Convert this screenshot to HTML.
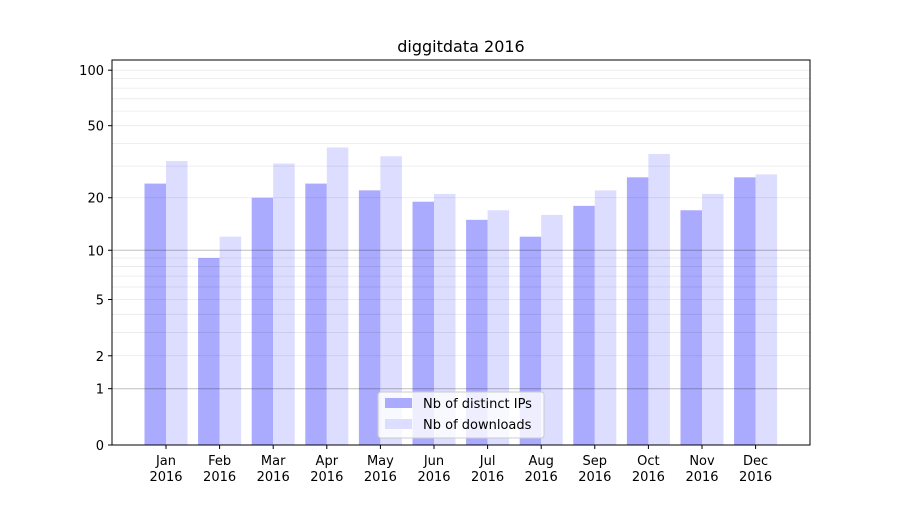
<!DOCTYPE html>
<html><head><meta charset="utf-8"><style>
body{margin:0;background:#fff;}
text{font-family:"DejaVu Sans","Liberation Sans",sans-serif;}
</style></head><body>
<svg id="chart" width="900" height="500" xmlns="http://www.w3.org/2000/svg">
<rect width="900" height="500" fill="#fff"/>
<text x="461" y="52" font-size="16" text-anchor="middle">diggitdata 2016</text>
<g id="bars"></g><g id="grid"></g><g id="axes"></g>
<g>
<rect x="378" y="392" width="166" height="46" fill="#fff" fill-opacity="0.8" stroke="#ccc" rx="3"/>
<rect x="385" y="398" width="27" height="10" fill="#aaaaff"/>
<text x="423" y="408" font-size="13">Nb of distinct IPs</text>
<rect x="385" y="419" width="27" height="10" fill="#ddddff"/>
<text x="423" y="429" font-size="13">Nb of downloads</text>
</g>
</svg>
<script>
const months=["Jan","Feb","Mar","Apr","May","Jun","Jul","Aug","Sep","Oct","Nov","Dec"];
const ips=[24,9,20,24,22,19,15,12,18,26,17,26];
const downloads=[32,12,31,38,34,21,17,16,22,35,21,27];
const yTicks=[0,1,2,5,10,20,50,100];
const NS="http://www.w3.org/2000/svg";
const L=112,R=810,T=60,B=445,K=187;
function y(v){return B-K*Math.log10(1+v);}
function xc(i){return 166+i*53.6;}
function mk(tag,attrs,parent){const e=document.createElementNS(NS,tag);for(const k in attrs)e.setAttribute(k,attrs[k]);document.getElementById(parent).appendChild(e);return e;}
const minor=[2,3,4,5,6,7,8,9,20,30,40,50,60,70,80,90,100];
minor.forEach(v=>{const l=mk("line",{x1:L,x2:R,y1:y(v),y2:y(v),stroke:"#000","stroke-opacity":0.09,"stroke-width":0.8},"grid");

});
[1,10].forEach(v=>{const l=mk("line",{x1:L,x2:R,y1:y(v),y2:y(v),stroke:"#000","stroke-opacity":0.25,"stroke-width":1},"grid");

});
const bw=21.5;
months.forEach((m,i)=>{
 const a=mk("rect",{x:xc(i)-bw,y:y(ips[i]),width:bw,height:B-y(ips[i]),fill:"#aaaaff"},"bars");
 
 
 const b=mk("rect",{x:xc(i),y:y(downloads[i]),width:bw,height:B-y(downloads[i]),fill:"#ddddff"},"bars");
 
 
 mk("line",{x1:xc(i),x2:xc(i),y1:B,y2:B+4,stroke:"#000"},"axes");
 const t=mk("text",{x:xc(i),y:B+20,"font-size":13,"text-anchor":"middle"},"axes");
 t.textContent=m;
 
 
 const t2=mk("text",{x:xc(i),y:B+36,"font-size":13,"text-anchor":"middle"},"axes");
 t2.textContent="2016";
 
 
});
yTicks.forEach(v=>{
 mk("line",{x1:L-4,x2:L,y1:y(v),y2:y(v),stroke:"#000"},"axes");
 const t=mk("text",{x:L-8,y:y(v)+5,"font-size":13,"text-anchor":"end"},"axes");
 t.textContent=v;
 
 
});
const f=mk("rect",{x:L,y:T,width:R-L,height:B-T,fill:"none",stroke:"#000","stroke-width":1},"axes");


</script>
</body></html>
